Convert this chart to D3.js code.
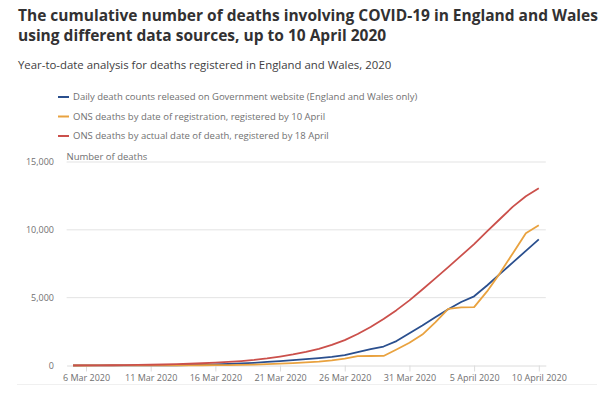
<!DOCTYPE html>
<html>
<head>
<meta charset="utf-8">
<script src="https://cdn.jsdelivr.net/npm/d3@7"></script>
<style>
  html, body { margin: 0; padding: 0; background: #fff; }
  svg { display: block; font-family: "Open Sans", sans-serif; }
</style>
</head>
<body>
<svg id="chart" width="614" height="396"></svg>
<script>
// ---- Data ----
const startDate = "2020-03-05";
const endDate = "2020-04-10";

const govDaily = [1, 2, 2, 3, 4, 6, 8, 11, 20, 33, 52, 75, 110, 150, 200, 260, 330, 400, 470, 550, 640, 760, 990, 1200, 1400, 1800, 2380,
  2950, 3550, 4150, 4680, 5100, 5900, 6750, 7600, 8450, 9300];
const onsRegistration = [1, 1, 2, 2, 3, 4, 5, 7, 10, 13, 17, 24, 35, 50, 70, 100, 135, 175, 225, 290, 380, 500, 690, 700, 705, 1180, 1680,
  2280, 3180, 4180, 4280, 4300, 5460, 6810, 8280, 9750, 10340];
const onsDeathDate = [4, 8, 13, 20, 28, 40, 55, 75, 100, 130, 165, 210, 265, 330, 410, 520, 660, 820, 1010, 1230, 1520, 1870, 2320, 2840, 3430, 4080, 4800,
  5600, 6420, 7250, 8100, 8950, 9880, 10800, 11710, 12480, 13060];

const seriesNames = [
  "Daily death counts released on Government website (England and Wales only)",
  "ONS deaths by date of registration, registered by 10 April",
  "ONS deaths by actual date of death, registered by 18 April"
];
const seriesColors = ["#2a4f8e", "#e9a23f", "#cb504b"];

const yTicks = [0, 5000, 10000, 15000];
const xTickDates = ["2020-03-06", "2020-03-11", "2020-03-16", "2020-03-21", "2020-03-26", "2020-03-31", "2020-04-05", "2020-04-10"];
const xTickLabels = ["6 Mar 2020", "11 Mar 2020", "16 Mar 2020", "21 Mar 2020", "26 Mar 2020", "31 Mar 2020", "5 April 2020", "10 April 2020"];

const titleLines = ["The cumulative number of deaths involving COVID-19 in England and Wales", "using different data sources, up to 10 April 2020"];
const subtitle = "Year-to-date analysis for deaths registered in England and Wales, 2020";
const yAxisTitle = "Number of deaths";

// ---- Build ----
const parse = d3.utcParse("%Y-%m-%d");
const dates = d3.utcDay.range(parse(startDate), d3.utcDay.offset(parse(endDate), 1));
const allSeries = [govDaily, onsRegistration, onsDeathDate];

const svg = d3.select("#chart");
svg.append("rect").attr("width", 614).attr("height", 396).attr("fill", "#fff");

const textDark = "#323132", textMid = "#414042", textGrey = "#707071";

// Title
svg.append("g").selectAll("text").data(titleLines).join("text")
  .attr("x", 18).attr("y", (d, i) => 21 + i * 20)
  .attr("font-size", 15.5).attr("font-weight", 700).attr("fill", textDark)
  .text(d => d);

svg.append("text").attr("x", 18).attr("y", 69)
  .attr("font-size", 11.4).attr("fill", textMid).text(subtitle);

// Legend
const legend = svg.append("g");
const lg = legend.selectAll("g").data(seriesNames).join("g")
  .attr("transform", (d, i) => `translate(0,${97 + i * 19.5})`);
lg.append("line").attr("x1", 58).attr("x2", 69).attr("y1", 0).attr("y2", 0)
  .attr("stroke", (d, i) => seriesColors[i]).attr("stroke-width", 2);
lg.append("text").attr("x", 73).attr("y", 0).attr("dy", "0.35em")
  .attr("font-size", 9.5).attr("fill", textGrey).text(d => d);

// Scales
const x = d3.scaleUtc()
  .domain([d3.utcHour.offset(parse("2020-03-04"), 12), d3.utcHour.offset(parse("2020-04-10"), 13)])
  .range([66.6, 545.8]);
const y = d3.scaleLinear().domain([0, 15000]).range([365.5, 162]);

// Gridlines
svg.append("g").selectAll("line").data(yTicks.filter(d => d > 0)).join("line")
  .attr("x1", x.range()[0]).attr("x2", x.range()[1])
  .attr("y1", d => y(d)).attr("y2", d => y(d))
  .attr("stroke", "#e3e3e3").attr("stroke-width", 1);

// Y axis
const yAxis = svg.append("g").attr("transform", "translate(54,0)")
  .call(d3.axisLeft(y).tickValues(yTicks).tickSize(0).tickPadding(0).tickFormat(d3.format(",")));
yAxis.select(".domain").remove();
yAxis.selectAll("text").attr("font-size", 9).attr("fill", textGrey).attr("font-family", "Open Sans");

svg.append("text").attr("x", 66.5).attr("y", 157).attr("dy", "0.35em")
  .attr("font-size", 9.5).attr("fill", textGrey).text(yAxisTitle);

// X axis
const xAxis = svg.append("g").attr("transform", `translate(0,${y(0)})`)
  .call(d3.axisBottom(x).tickValues(xTickDates.map(parse)).tickSize(6).tickSizeOuter(0).tickPadding(3)
    .tickFormat((d, i) => xTickLabels[i]));
xAxis.select(".domain").attr("stroke", "#dcdcdc");
xAxis.selectAll(".tick line").attr("stroke", "#dcdcdc");
xAxis.selectAll("text").attr("font-size", 9).attr("fill", textGrey).attr("font-family", "Open Sans");

// Faint footer rule
svg.append("line").attr("x1", 17).attr("x2", 597).attr("y1", 384.5).attr("y2", 384.5)
  .attr("stroke", "#f0f0f0");

// Lines
const line = d3.line().x((d, i) => x(dates[i])).y(d => y(d));
svg.append("g").selectAll("path").data(allSeries).join("path")
  .attr("d", line).attr("fill", "none")
  .attr("stroke", (d, i) => seriesColors[i]).attr("stroke-width", 1.8)
  .attr("stroke-linejoin", "round");
</script>
</body>
</html>
